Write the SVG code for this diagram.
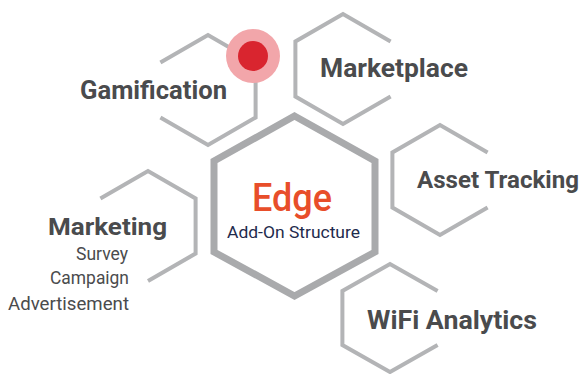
<svg xmlns="http://www.w3.org/2000/svg" width="585" height="374" viewBox="0 0 585 374">
<style>
.hex{fill:none;stroke:#b3b4b6;stroke-width:4;stroke-linejoin:miter}
.core{fill:#fff;stroke:#a9aaac;stroke-width:7;stroke-linejoin:miter}
.title{font-family:Roboto,"Liberation Sans",sans-serif;font-weight:700;fill:#4a4b4d}
.sub{font-family:Roboto,"Liberation Sans",sans-serif;font-weight:400;fill:#4a4b4d;font-size:18px}
</style>
<rect width="585" height="374" fill="#fff"/>
<g id="connectors"></g>
<g id="gamification">
<path class="hex" d="M160.4,62.5 L208,35 L255.6,62.5 L255.6,117.5 L208,145 L160.4,117.5"/>
<text class="title" x="80" y="99" font-size="25" textLength="147" lengthAdjust="spacingAndGlyphs">Gamification</text>
</g>
<g id="marker-dot">
<circle cx="253" cy="56" r="27" fill="#f2a6aa"/>
<circle cx="253" cy="56" r="15" fill="#d9252f"/>
</g>
<g id="marketplace">
<path class="hex" d="M390.6,41.5 L343,14 L295.4,41.5 L295.4,96.5 L343,124 L390.6,96.5"/>
<text class="title" x="320" y="77" font-size="25" textLength="148" lengthAdjust="spacingAndGlyphs">Marketplace</text>
</g>
<g id="asset-tracking">
<path class="hex" d="M487.6,152.5 L440,125 L392.4,152.5 L392.4,207.5 L440,235 L487.6,207.5"/>
<text class="title" x="417" y="188" font-size="24" textLength="162" lengthAdjust="spacingAndGlyphs">Asset Tracking</text>
</g>
<g id="marketing">
<path class="hex" d="M100.4,198.5 L148,171 L195.6,198.5 L195.6,253.5 L148,281"/>
<text class="title" x="48" y="235" font-size="24" textLength="119" lengthAdjust="spacingAndGlyphs">Marketing</text>
<text class="sub" x="76" y="260" textLength="52" lengthAdjust="spacingAndGlyphs">Survey</text>
<text class="sub" x="50" y="284" textLength="79" lengthAdjust="spacingAndGlyphs">Campaign</text>
<text class="sub" x="8" y="310" textLength="121" lengthAdjust="spacingAndGlyphs">Advertisement</text>
</g>
<g id="wifi-analytics">
<path class="hex" d="M437.6,291 L390,264 L342.4,291 L342.4,345 L390,372 L437.6,345"/>
<text class="title" x="367" y="329" font-size="25" textLength="170" lengthAdjust="spacingAndGlyphs">WiFi Analytics</text>
</g>
<g id="edge">
<polygon class="core" points="294.5,116 375,161 375,252 294.5,296 214,252 214,161"/>
<text x="252" y="211" font-family="Roboto,'Liberation Sans',sans-serif" font-weight="500" font-size="39" fill="#e84e2a" textLength="80" lengthAdjust="spacingAndGlyphs">Edge</text>
<text x="227" y="238" font-family="Roboto,'Liberation Sans',sans-serif" font-size="17" fill="#1f2b4d" textLength="133" lengthAdjust="spacingAndGlyphs">Add-On Structure</text>
</g>
</svg>
